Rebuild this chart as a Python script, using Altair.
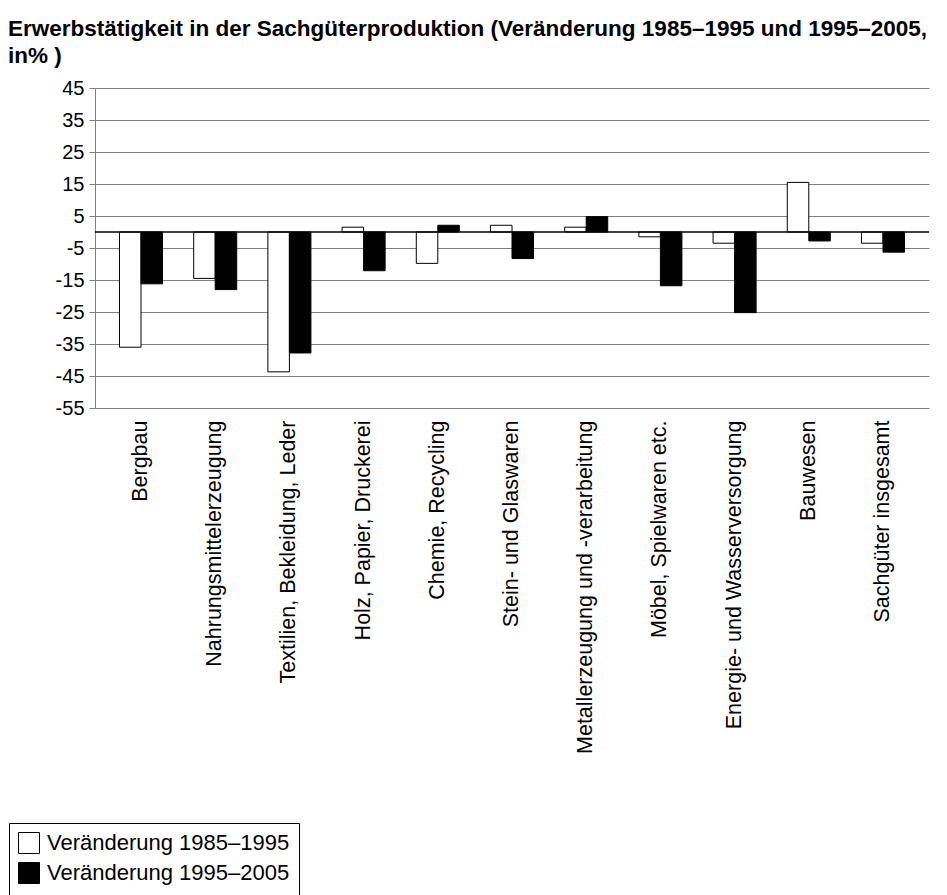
import altair as alt
import pandas as pd

categories = [
    "Bergbau",
    "Nahrungsmittelerzeugung",
    "Textilien, Bekleidung, Leder",
    "Holz, Papier, Druckerei",
    "Chemie, Recycling",
    "Stein- und Glaswaren",
    "Metallerzeugung und -verarbeitung",
    "Möbel, Spielwaren etc.",
    "Energie- und Wasserversorgung",
    "Bauwesen",
    "Sachgüter insgesamt",
]
series = ["Veränderung 1985–1995", "Veränderung 1995–2005"]
v_1985_1995 = [-36.0, -14.5, -43.7, 1.5, -9.8, 2.1, 1.5, -1.5, -3.5, 15.5, -3.5]
v_1995_2005 = [-16.2, -18.0, -37.8, -12.1, 2.1, -8.3, 4.8, -16.8, -25.2, -2.8, -6.3]
y_ticks = [45, 35, 25, 15, 5, -5, -15, -25, -35, -45, -55]

rows = []
for c, a, b in zip(categories, v_1985_1995, v_1995_2005):
    rows.append({"cat": c, "series": series[0], "value": a})
    rows.append({"cat": c, "series": series[1], "value": b})
df = pd.DataFrame(rows)

FONT = "Liberation Sans"
yscale = alt.Scale(domain=[-55, 45], nice=False, zero=False)
yaxis = alt.Axis(
    values=y_ticks,
    labelExpr="toString(datum.value)",
    labelFontSize=20,
    labelFont=FONT,
    labelColor="black",
    labelOverlap=False,
    tickSize=6,
    tickColor="#7f7f7f",
    domainColor="#7f7f7f",
    grid=True,
    gridColor="#7f7f7f",
    gridWidth=1,
    labelPadding=5,
    minExtent=87,
    maxExtent=87,
)

bars = alt.Chart(df).mark_bar(stroke="black", strokeWidth=1).encode(
    x=alt.X(
        "cat:N",
        sort=categories,
        title=None,
        scale=alt.Scale(paddingInner=0.42, paddingOuter=0.33),
        axis=alt.Axis(
            labelAngle=-90,
            labelFontSize=21.5,
            labelPadding=12,
            ticks=False,
            domain=False,
            grid=False,
            labelColor="black",
            labelFont=FONT,
            labelLimit=500,
        ),
    ),
    xOffset=alt.XOffset("series:N", sort=series, scale=alt.Scale(paddingInner=0, paddingOuter=0)),
    y=alt.Y("value:Q", title=None, scale=yscale, axis=yaxis),
    color=alt.Color(
        "series:N",
        sort=series,
        scale=alt.Scale(domain=series, range=["white", "black"]),
        legend=alt.Legend(
            title=None,
            orient="none",
            legendX=-86,
            legendY=735,
            symbolType="square",
            symbolSize=441,
            symbolStrokeColor="black",
            symbolStrokeWidth=1,
            labelFontSize=22,
            labelFont=FONT,
            labelColor="black",
            labelLimit=400,
            strokeColor="black",
            padding=9,
            rowPadding=4,
            labelOffset=7,
        ),
    ),
)

zero = alt.Chart(pd.DataFrame({"z": [0]})).mark_rule(color="black", strokeWidth=1.5).encode(
    y=alt.Y("z:Q", title=None, scale=yscale, axis=yaxis)
)

chart = (
    alt.layer(bars, zero)
    .properties(
        width=834,
        height=320,
        padding={"left": 0, "top": 9, "right": 0, "bottom": 0},
        title=alt.TitleParams(
            text=[
                "Erwerbstätigkeit in der Sachgüterproduktion (Veränderung 1985–1995 und 1995–2005,",
                "in% )",
            ],
            anchor="start",
            frame="bounds",
            font=FONT,
            fontSize=22.5,
            fontWeight="bold",
            lineHeight=27,
            offset=11,
            color="black",
        ),
    )
    .configure_view(stroke=None)
)

chart.save("out.html", embed_options={"renderer": "svg", "actions": False})
